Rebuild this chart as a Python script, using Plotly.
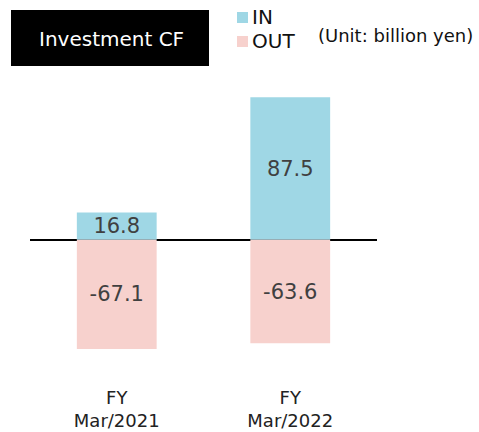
import plotly.graph_objects as go

categories = ["FY<br>Mar/2021", "FY<br>Mar/2022"]
in_values = [16.8, 87.5]
out_values = [-67.1, -63.6]
series_names = ["IN", "OUT"]

IN_COLOR = "#9fd7e5"
OUT_COLOR = "#f7d1cd"
FONT = "DejaVu Sans"

W, H = 479, 432
ML, MT = 30, 77
PW, PH = 347, 293
MR, MB = W - ML - PW, H - MT - PH


def px(x):
    return (x - ML) / PW


def py(y):
    return (MT + PH - y) / PH


fig = go.Figure()
fig.add_trace(go.Bar(
    x=categories, y=in_values, name=series_names[0],
    marker=dict(color=IN_COLOR, line=dict(width=0)),
    text=[f"{v:.1f}" for v in in_values], textposition="inside",
    insidetextanchor="middle", constraintext="none",
    textfont=dict(family=FONT, size=21, color="#404040"),
))
fig.add_trace(go.Bar(
    x=categories, y=out_values, name=series_names[1],
    marker=dict(color=OUT_COLOR, line=dict(width=0)),
    text=[f"{v:.1f}" for v in out_values], textposition="inside",
    insidetextanchor="middle", constraintext="none",
    textfont=dict(family=FONT, size=21, color="#404040"),
))

shapes = [
    dict(type="rect", xref="paper", yref="paper",
         x0=px(11), x1=px(209), y0=py(66), y1=py(10),
         fillcolor="black", line=dict(width=0)),
    dict(type="rect", xref="paper", yref="paper",
         x0=px(237), x1=px(248), y0=py(23), y1=py(12),
         fillcolor=IN_COLOR, line=dict(width=0)),
    dict(type="rect", xref="paper", yref="paper",
         x0=px(237), x1=px(248), y0=py(47), y1=py(36),
         fillcolor=OUT_COLOR, line=dict(width=0)),
]

annotations = [
    dict(text="Investment CF", xref="paper", yref="paper", x=px(111), y=py(39),
         xanchor="center", yanchor="middle", showarrow=False,
         font=dict(family=FONT, size=20, color="white")),
    dict(text=series_names[0], xref="paper", yref="paper", x=px(250), y=py(17),
         xanchor="left", yanchor="middle", showarrow=False,
         font=dict(family=FONT, size=20, color="#111")),
    dict(text=series_names[1], xref="paper", yref="paper", x=px(250), y=py(41),
         xanchor="left", yanchor="middle", showarrow=False,
         font=dict(family=FONT, size=20, color="#111")),
    dict(text="(Unit: billion yen)", xref="paper", yref="paper", x=px(316), y=py(36),
         xanchor="left", yanchor="middle", showarrow=False,
         font=dict(family=FONT, size=18, color="#111")),
]

fig.update_layout(
    width=W, height=H,
    margin=dict(l=ML, r=MR, t=MT, b=MB, pad=0, autoexpand=False),
    barmode="relative", bargap=0.54,
    showlegend=False,
    plot_bgcolor="white", paper_bgcolor="white",
    shapes=shapes, annotations=annotations,
)
fig.update_xaxes(range=[-0.5, 1.5], showgrid=False, showline=False, ticks="",
                 automargin=False, ticklabelstandoff=15,
                 tickfont=dict(family=FONT, size=18, color="#222"))
fig.update_yaxes(range=[-80, 100], showgrid=False, showticklabels=False,
                 automargin=False,
                 zeroline=True, zerolinecolor="black", zerolinewidth=2)

fig.write_html("out.html", config={"displayModeBar": False},
               post_script="document.body.style.margin='0';")
